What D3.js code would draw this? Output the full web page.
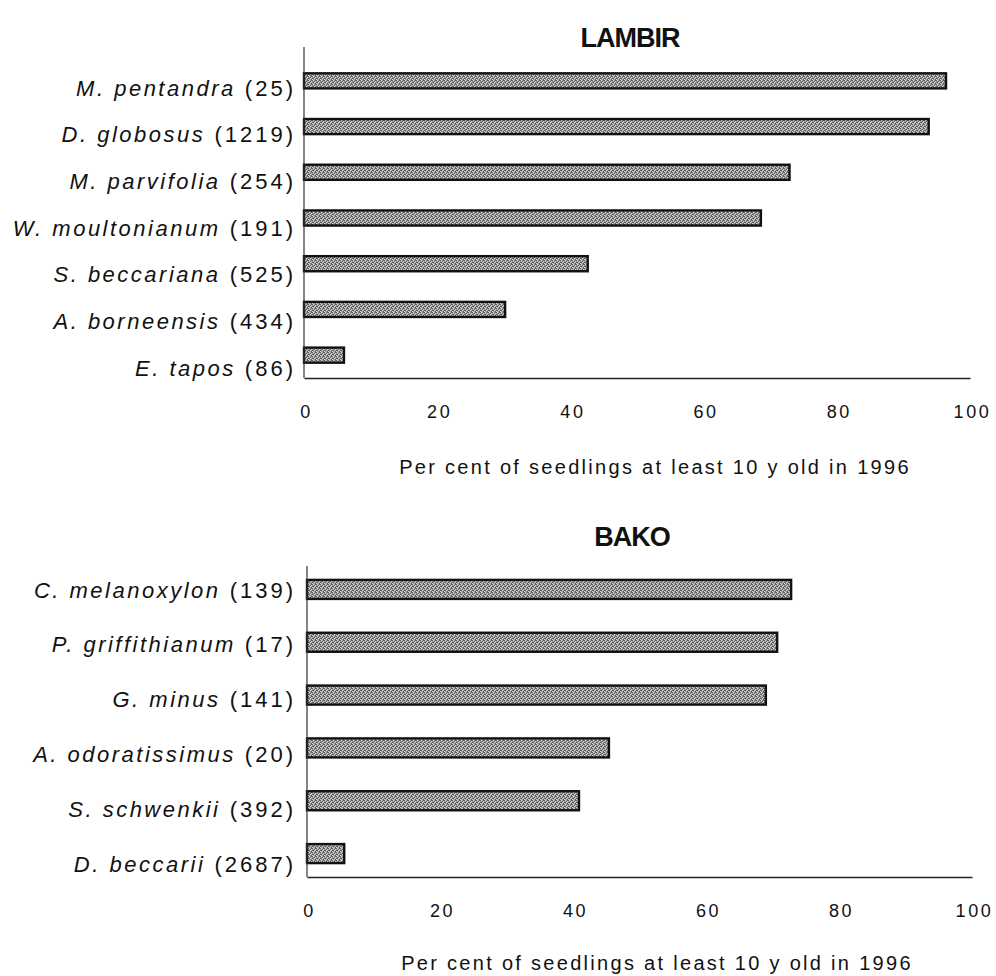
<!DOCTYPE html>
<html>
<head>
<meta charset="utf-8">
<script src="https://cdn.jsdelivr.net/npm/d3@7"></script>
<style>
  html, body { margin: 0; padding: 0; background: #fff; }
  svg { display: block; }
  text { font-family: "Liberation Sans", Arial, Helvetica, sans-serif; fill: #111; }
</style>
</head>
<body>
<svg id="chart" width="996" height="976"></svg>
<script>
// ---------- DATA ----------
const lambirSpecies = ["M. pentandra", "D. globosus", "M. parvifolia", "W. moultonianum", "S. beccariana", "A. borneensis", "E. tapos"];
const lambirN       = [25, 1219, 254, 191, 525, 434, 86];
const lambirPct     = [96.4, 93.8, 72.9, 68.6, 42.6, 30.2, 6.0];

const bakoSpecies = ["C. melanoxylon", "P. griffithianum", "G. minus", "A. odoratissimus", "S. schwenkii", "D. beccarii"];
const bakoN       = [139, 17, 141, 20, 392, 2687];
const bakoPct     = [72.8, 70.7, 69.0, 45.4, 40.9, 5.6];

const xTicks = [0, 20, 40, 60, 80, 100];
const axisTitle = "Per cent of seedlings at least 10 y old in 1996";

// ---------- DRAWING ----------
const svg = d3.select("#chart");

// stippled grey fill, like the halftone of the original
const defs = svg.append("defs");
const pat = defs.append("pattern").attr("id", "stipple")
  .attr("patternUnits", "userSpaceOnUse").attr("width", 4).attr("height", 4);
pat.append("rect").attr("width", 4).attr("height", 4).attr("fill", "#a2a2a2");
[[0,0],[2,1],[1,2],[3,3],[3,0],[0,2]].forEach(([px,py]) =>
  pat.append("rect").attr("x", px).attr("y", py).attr("width", 1).attr("height", 1).attr("fill", "#5c5c5c"));
[[1,0],[0,3],[2,2],[3,1]].forEach(([px,py]) =>
  pat.append("rect").attr("x", px).attr("y", py).attr("width", 1).attr("height", 1).attr("fill", "#d6d6d6"));

function panel(cfg) {
  const { species, n, pct, title } = cfg;
  const rows = species.map((s, i) => ({ s, n: n[i], v: pct[i] }));

  const x = d3.scaleLinear().domain([0, 100]).range(cfg.xRange);
  const y = d3.scaleBand().domain(species).range(cfg.barRange)
    .paddingInner(cfg.pad).paddingOuter(cfg.pad / 2);
  const yl = d3.scalePoint().domain(species).range(cfg.labelRange);

  const g = svg.append("g");

  // title
  g.append("text")
    .attr("x", cfg.titleX).attr("y", cfg.titleY)
    .attr("text-anchor", "middle")
    .style("font-weight", "bold").style("font-size", "27px").style("letter-spacing", "-1px")
    .text(title);

  // bars
  g.selectAll("rect.bar").data(rows).join("rect")
    .attr("class", "bar")
    .attr("x", x(0))
    .attr("y", d => y(d.s))
    .attr("width", d => x(d.v) - x(0))
    .attr("height", y.bandwidth())
    .attr("fill", "url(#stipple)")
    .attr("stroke", "#111")
    .attr("stroke-width", 2.4);

  // axes lines (no tick marks)
  g.append("line")
    .attr("x1", x(0)).attr("x2", x(0))
    .attr("y1", cfg.axisTop).attr("y2", cfg.axisY)
    .attr("stroke", "#333").attr("stroke-width", 1.2);
  const xAxis = d3.axisBottom(x).tickValues(xTicks).tickSize(0).tickPadding(0);
  const ax = g.append("g").attr("transform", `translate(0,${cfg.axisY})`).call(xAxis);
  ax.select(".domain").attr("stroke", "#222").attr("stroke-width", 1.6);
  ax.selectAll(".tick text")
    .attr("y", cfg.tickDy).attr("dy", 0)
    .attr("dx", 2)
    .style("font-size", "18px").style("letter-spacing", "2.6px")
    .style("font-family", '"Liberation Sans", Arial, sans-serif')
    .attr("fill", "#111");

  // category labels
  const lab = g.selectAll("text.cat").data(rows).join("text")
    .attr("class", "cat")
    .attr("x", cfg.labelX)
    .attr("y", d => yl(d.s) + 7.5)
    .attr("text-anchor", "end")
    .style("font-size", "22px");
  lab.append("tspan").style("font-style", "italic").style("letter-spacing", "2.5px").text(d => d.s);
  lab.append("tspan").style("letter-spacing", "3px").text(d => ` (${d.n})`);

  // axis title
  g.append("text")
    .attr("x", cfg.axTitleX).attr("y", cfg.axTitleY)
    .attr("text-anchor", "middle")
    .style("font-size", "20px").style("letter-spacing", "2.3px")
    .text(axisTitle);
}

panel({
  species: lambirSpecies, n: lambirN, pct: lambirPct, title: "LAMBIR",
  xRange: [304, 970], barRange: [58, 378], pad: 0.67,
  labelRange: [88, 368], labelX: 296,
  axisTop: 47, axisY: 378, tickDy: 40,
  titleX: 630, titleY: 47, axTitleX: 655, axTitleY: 474
});

panel({
  species: bakoSpecies, n: bakoN, pct: bakoPct, title: "BAKO",
  xRange: [307, 972], barRange: [563, 880], pad: 0.64,
  labelRange: [590, 864], labelX: 296,
  axisTop: 566, axisY: 877, tickDy: 40,
  titleX: 632, titleY: 546, axTitleX: 657, axTitleY: 970
});
</script>
</body>
</html>
